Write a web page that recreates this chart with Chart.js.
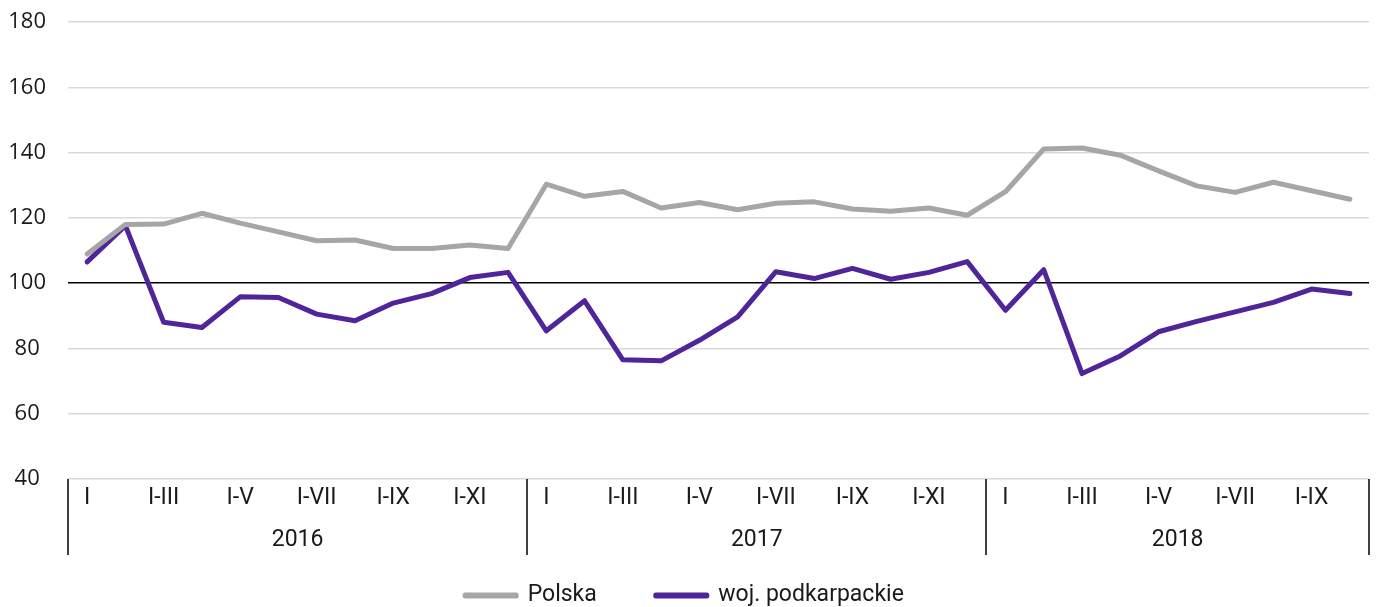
<!DOCTYPE html>
<html>
<head>
<meta charset="utf-8">
<script src="https://cdn.jsdelivr.net/npm/chart.js@4"></script>
<style>
  body { margin: 0; background: #fff; }
  #wrap { width: 1379px; height: 607px; }
</style>
</head>
<body>
<div id="wrap"><canvas id="myChart"></canvas></div>
<script>
const years = ['2016', '2017', '2018'];
const monthsPerYear = [12, 12, 10];
const periods = ['I', 'I-II', 'I-III', 'I-IV', 'I-V', 'I-VI', 'I-VII', 'I-VIII', 'I-IX', 'I-X', 'I-XI', 'I-XII'];

const polska = [
  108.9, 118.0, 118.1, 121.4, 118.4, 115.7, 113.0, 113.2, 110.6, 110.6, 111.7, 110.6,
  130.3, 126.6, 128.1, 123.0, 124.7, 122.5, 124.5, 124.9, 122.7, 122.0, 123.0, 120.8,
  128.0, 141.1, 141.4, 139.2, 134.4, 129.8, 127.8, 130.9, 128.3, 125.7
];
const podkarpackie = [
  106.5, 117.6, 88.0, 86.4, 95.8, 95.6, 90.5, 88.5, 93.9, 96.8, 101.7, 103.3,
  85.4, 94.6, 76.5, 76.2, 82.5, 89.7, 103.5, 101.4, 104.5, 101.2, 103.3, 106.6,
  91.7, 104.1, 72.3, 77.7, 85.1, 88.3, 91.2, 94.1, 98.2, 96.8
];

const labels = [];
monthsPerYear.forEach(n => {
  for (let i = 0; i < n; i++) labels.push(periods[i]);
});

const FONT = "Roboto, sans-serif";
Chart.defaults.font.family = FONT;
Chart.defaults.color = '#1a1a1a';

// year row + separators under the x axis
const yearRows = {
  id: 'yearRows',
  afterDraw(chart) {
    const x = chart.scales.x;
    const ctx = chart.ctx;
    const top = chart.chartArea.bottom;
    const bottom = top + 76;
    ctx.save();
    ctx.strokeStyle = '#000';
    ctx.lineWidth = 1.5;
    let start = 0;
    const edges = [start];
    monthsPerYear.forEach(n => { start += n; edges.push(start); });
    edges.forEach(e => {
      const px = Math.round(x.getPixelForValue(e - 0.5));
      ctx.beginPath();
      ctx.moveTo(px, top);
      ctx.lineTo(px, bottom);
      ctx.stroke();
    });
    ctx.fillStyle = '#1a1a1a';
    ctx.font = '23px ' + FONT;
    ctx.textAlign = 'center';
    ctx.textBaseline = 'middle';
    years.forEach((y, i) => {
      const a = x.getPixelForValue(edges[i] - 0.5);
      const b = x.getPixelForValue(edges[i + 1] - 0.5);
      ctx.fillText(y, (a + b) / 2, top + 61);
    });
    ctx.restore();
  }
};

const data = {
  labels: labels,
  datasets: [{
    label: 'Polska',
    data: polska,
    borderColor: '#a6a6a6',
    backgroundColor: '#a6a6a6',
    borderWidth: 5,
    borderJoinStyle: 'round',
    borderCapStyle: 'round',
    pointRadius: 0,
    tension: 0
  }, {
    label: 'woj. podkarpackie',
    data: podkarpackie,
    borderColor: '#50259a',
    backgroundColor: '#50259a',
    borderWidth: 5,
    borderJoinStyle: 'round',
    borderCapStyle: 'round',
    pointRadius: 0,
    tension: 0
  }]
};

const config = {
  type: 'line',
  data: data,
  options: {
    responsive: true,
    maintainAspectRatio: false,
    animation: false,
    layout: { padding: { top: 22, right: 10, left: 0, bottom: -10 } },
    plugins: {
      legend: {
        position: 'bottom',
        labels: {
          boxWidth: 51,
          boxHeight: 1,
          padding: 59,
          font: { size: 23 }
        }
      },
      tooltip: { enabled: false }
    },
    scales: {
      x: {
        offset: true,
        afterFit: function (scale) { scale.height = 46; },
        grid: { display: false, drawTicks: false },
        border: { display: false },
        ticks: {
          autoSkip: false,
          maxRotation: 0,
          padding: 5,
          font: { size: 23 },
          callback: function (val, i) {
            return i % 2 === 0 ? labels[i] : '';
          }
        }
      },
      y: {
        min: 40,
        max: 180,
        afterFit: function (scale) {
          scale.width = 68;
          scale.paddingTop = 0;
          scale.paddingBottom = 0;
        },
        border: { display: false },
        grid: {
          color: ctx => ctx.tick && ctx.tick.value === 100 ? '#000' : '#d9d9d9',
          lineWidth: 1.5,
          drawTicks: false
        },
        ticks: {
          stepSize: 20,
          crossAlign: 'center',
          padding: 22,
          font: { family: "'Open Sans', sans-serif", size: 22 }
        }
      }
    }
  },
  plugins: [yearRows]
};

const myChart = new Chart(
  document.getElementById('myChart'),
  config
);
</script>
</body>
</html>
